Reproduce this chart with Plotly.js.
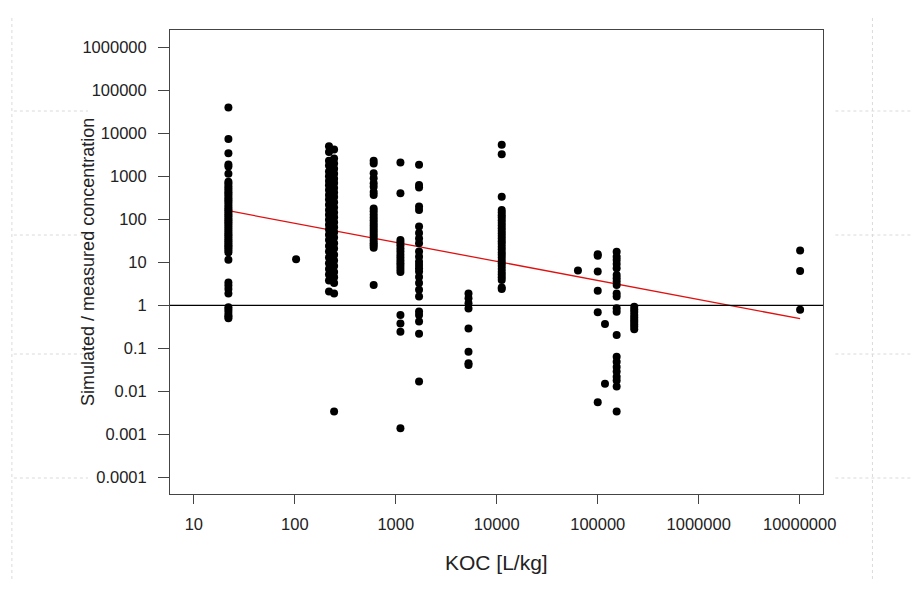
<!DOCTYPE html>
<html>
<head>
<meta charset="utf-8">
<script src="https://cdn.plot.ly/plotly-3.0.1.min.js"></script>
<style>html,body{margin:0;padding:0;background:#fff;}#chart{width:912px;height:592px;}</style>
</head>
<body>
<div id="chart"></div>
<script>
// ---- Data ----
const kocLevels = [22, 103, 218, 245, 604, 1112, 1700, 5250, 11200, 63700, 100000, 118000, 154000, 230000, 10100000];

const ratioKoc22 = [40000, 7400, 3450, 1900, 1700, 1150, 750, 680, 600, 540, 480, 430, 390, 350, 310, 280, 250, 220, 195, 175, 160, 145, 130, 118, 105, 95, 86, 78, 70, 63, 57, 51, 46, 42, 38, 34, 31, 28, 25, 23, 21, 19, 17, 11.5, 3.4, 2.9, 2.4, 1.9, 0.9, 0.8, 0.7, 0.6, 0.55, 0.5];
const ratioKoc103 = [11.8];
const ratioKoc218 = [5000, 3700, 2300, 1800, 1300, 1000, 780, 620, 480, 370, 290, 220, 165, 128, 98, 75, 58, 44, 33, 24, 18, 13, 9.5, 7, 5.2, 3.8, 2.1];
const ratioKoc245 = [4200, 2600, 2000, 1500, 1150, 880, 700, 540, 420, 330, 250, 190, 145, 112, 86, 66, 50, 38, 28, 21, 15, 11, 8.2, 6, 4.5, 3.3, 1.9, 0.0034];
const ratioKoc604 = [2300, 2000, 1180, 900, 690, 575, 435, 370, 180, 155, 130, 110, 95, 82, 72, 63, 55, 48, 42, 37, 32, 28, 25, 22, 3.0];
const ratioKoc1112 = [2090, 405, 33, 29, 25, 21, 18, 15, 13, 11, 9.5, 8.2, 7, 6, 0.6, 0.38, 0.245, 0.0014];
const ratioKoc1700 = [1850, 630, 550, 200, 165, 68, 48, 36, 28, 18, 13.5, 10.4, 8.7, 7.3, 6.1, 4.6, 3.3, 2.3, 1.6, 0.72, 0.6, 0.42, 0.22, 0.017];
const ratioKoc5250 = [1.9, 1.46, 1.12, 0.85, 0.29, 0.084, 0.045, 0.041];
const ratioKoc11200 = [5400, 3250, 337, 165, 145, 125, 110, 95, 82, 72, 62, 54, 47, 41, 36, 31, 27, 23, 20, 17, 15, 13, 11, 9.5, 8.2, 7, 6, 5.2, 4.5, 3.9, 2.6, 2.4];
const ratioKoc63700 = [6.5];
const ratioKoc100000 = [15.5, 14.2, 6.1, 2.2, 0.69, 0.0056];
const ratioKoc118000 = [0.37, 0.015];
const ratioKoc154000 = [17.7, 13.6, 11.4, 9.2, 7.3, 5.1, 4.3, 3.6, 3.0, 1.9, 1.6, 0.86, 0.71, 0.205, 0.064, 0.049, 0.037, 0.029, 0.022, 0.018, 0.013, 0.0034];
const ratioKoc230000 = [0.93, 0.8, 0.7, 0.6, 0.52, 0.46, 0.41, 0.36, 0.32, 0.28];
const ratioKoc1e7 = [19, 6.3, 0.79];

const ratioGroups = [ratioKoc22, ratioKoc103, ratioKoc218, ratioKoc245, ratioKoc604, ratioKoc1112, ratioKoc1700, ratioKoc5250, ratioKoc11200, ratioKoc63700, ratioKoc100000, ratioKoc118000, ratioKoc154000, ratioKoc230000, ratioKoc1e7];

// regression line end points
const fitKoc = [22, 10100000];
const fitRatio = [159, 0.49];
const refRatio = 1;

const xTickVals = [10, 100, 1000, 10000, 100000, 1000000, 10000000];
const xTickText = ['10', '100', '1000', '10000', '100000', '1000000', '10000000'];
const yTickVals = [0.0001, 0.001, 0.01, 0.1, 1, 10, 100, 1000, 10000, 100000, 1000000];
const yTickText = ['0.0001', '0.001', '0.01', '0.1', '1', '10', '100', '1000', '10000', '100000', '1000000'];

// ---- Build traces ----
const px = [], py = [];
ratioGroups.forEach((g, i) => g.forEach(v => { px.push(kocLevels[i]); py.push(v); }));

const traces = [
  {x: fitKoc, y: fitRatio, mode: 'lines', type: 'scatter', line: {color: '#e01010', width: 1.3}, hoverinfo: 'skip'},
  {x: px, y: py, mode: 'markers', type: 'scatter', marker: {color: '#000', size: 8, line: {width: 0}}}
];

const L = 170, R = 822.6, T = 30, B = 494;
const pxX = p => (p - L) / (R - L);
const pxY = p => (B - p) / (B - T);
const dot = {color: '#dadada', width: 1, dash: 'dot'};

const shapes = [
  {type: 'line', xref: 'paper', yref: 'y', x0: 0, x1: 1, y0: refRatio, y1: refRatio, line: {color: '#000', width: 1.4}},
  {type: 'line', xref: 'paper', yref: 'paper', x0: pxX(12), x1: pxX(12), y0: pxY(18), y1: pxY(582), line: dot},
  {type: 'line', xref: 'paper', yref: 'paper', x0: pxX(872), x1: pxX(872), y0: pxY(18), y1: pxY(582), line: dot}
];
[111, 235, 354, 478].forEach(yy => {
  shapes.push({type: 'line', xref: 'paper', yref: 'paper', x0: pxX(14), x1: pxX(88), y0: pxY(yy), y1: pxY(yy), line: dot});
  shapes.push({type: 'line', xref: 'paper', yref: 'paper', x0: pxX(835), x1: pxX(912), y0: pxY(yy), y1: pxY(yy), line: dot});
});

const font = 'Liberation Sans, Arial, sans-serif';
const layout = {
  width: 912, height: 592,
  margin: {l: L, r: 912 - R, t: T, b: 592 - B, pad: 0},
  paper_bgcolor: '#fff', plot_bgcolor: '#fff',
  showlegend: false,
  font: {family: font, color: '#222'},
  xaxis: {
    type: 'log', range: [0.764, 7.231],
    tickvals: xTickVals, ticktext: xTickText,
    ticks: 'outside', ticklen: 9, tickwidth: 1, tickcolor: '#444',
    ticklabelstandoff: 6,
    tickfont: {family: font, size: 16.5, color: '#222'},
    showgrid: false, zeroline: false,
    showline: true, mirror: true, linecolor: '#444', linewidth: 1
  },
  yaxis: {
    type: 'log', range: [-4.385, 6.403],
    tickvals: yTickVals, ticktext: yTickText,
    ticks: 'outside', ticklen: 11, tickwidth: 1, tickcolor: '#444',
    ticklabelstandoff: 8,
    tickfont: {family: font, size: 16.5, color: '#222'},
    showgrid: false, zeroline: false,
    showline: true, mirror: true, linecolor: '#444', linewidth: 1
  },
  shapes: shapes,
  annotations: [
    {text: 'KOC [L/kg]', xref: 'paper', yref: 'paper', x: pxX(496), y: pxY(562), xanchor: 'center', yanchor: 'middle', showarrow: false, font: {family: font, size: 21, color: '#222'}},
    {text: 'Simulated / measured concentration', xref: 'paper', yref: 'paper', x: pxX(88), y: pxY(262), xanchor: 'center', yanchor: 'middle', textangle: -90, showarrow: false, font: {family: font, size: 18, color: '#222'}}
  ]
};

Plotly.newPlot('chart', traces, layout, {staticPlot: true, displayModeBar: false});
</script>
</body>
</html>
